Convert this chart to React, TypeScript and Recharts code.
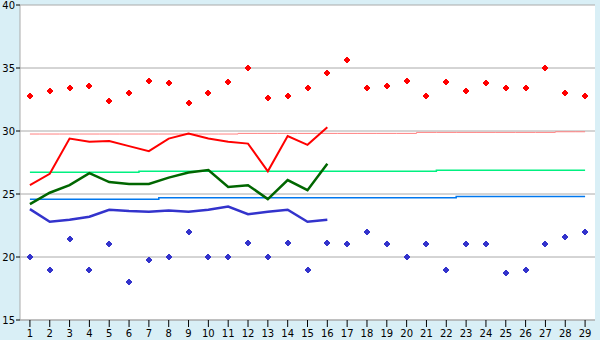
import { ComposedChart, Line, XAxis, YAxis, CartesianGrid } from "recharts";

const days = [
  "1", "2", "3", "4", "5", "6", "7", "8", "9", "10", "11", "12", "13", "14", "15",
  "16", "17", "18", "19", "20", "21", "22", "23", "24", "25", "26", "27", "28", "29",
];

// scattered daily highs / lows
const highs = [
  32.8, 33.2, 33.4, 33.6, 32.4, 33.0, 34.0, 33.8, 32.2, 33.0, 33.9, 35.0, 32.6, 32.8, 33.4,
  34.6, 35.6, 33.4, 33.6, 34.0, 32.8, 33.9, 33.2, 33.8, 33.4, 33.4, 35.0, 33.0, 32.8,
];
const lows = [
  20.0, 19.0, 21.4, 19.0, 21.0, 18.0, 19.75, 20.0, 22.0, 20.0, 20.0, 21.1, 20.0, 21.1, 19.0,
  21.1, 21.0, 22.0, 21.0, 20.0, 21.0, 19.0, 21.0, 21.0, 18.7, 19.0, 21.0, 21.6, 22.0,
];

// current month lines (first 16 days)
const redLine = [25.7, 26.6, 29.4, 29.15, 29.2, 28.8, 28.4, 29.4, 29.8, 29.4, 29.15, 29.0, 26.8, 29.6, 28.9, 30.3];
const greenLine = [24.2, 25.1, 25.7, 26.65, 25.95, 25.8, 25.8, 26.3, 26.7, 26.9, 25.55, 25.7, 24.6, 26.1, 25.3, 27.4];
const blueLine = [23.8, 22.8, 22.95, 23.2, 23.75, 23.65, 23.6, 23.7, 23.6, 23.75, 24.0, 23.4, 23.6, 23.75, 22.8, 22.95];

// long-term averages
const avgHigh = [
  29.76, 29.76, 29.76, 29.76, 29.76, 29.76, 29.76, 29.76, 29.76, 29.76, 29.76, 29.81, 29.81, 29.81, 29.81,
  29.81, 29.81, 29.81, 29.81, 29.81, 29.89, 29.89, 29.89, 29.89, 29.89, 29.89, 29.89, 29.94, 29.94,
];
const avgMean = [
  26.72, 26.72, 26.72, 26.72, 26.72, 26.72, 26.8, 26.8, 26.8, 26.8, 26.8, 26.8, 26.8, 26.8, 26.8,
  26.8, 26.8, 26.8, 26.8, 26.8, 26.8, 26.88, 26.88, 26.88, 26.88, 26.88, 26.88, 26.88, 26.88,
];
const avgLow = [
  24.58, 24.58, 24.58, 24.58, 24.58, 24.58, 24.58, 24.7, 24.7, 24.7, 24.7, 24.7, 24.7, 24.7, 24.7,
  24.7, 24.7, 24.7, 24.7, 24.7, 24.7, 24.7, 24.8, 24.8, 24.8, 24.8, 24.8, 24.8, 24.8,
];

const yTicks = [15, 20, 25, 30, 35, 40];

const data = days.map((day, i) => ({
  day,
  high: highs[i],
  low: lows[i],
  red: i < redLine.length ? redLine[i] : null,
  green: i < greenLine.length ? greenLine[i] : null,
  blue: i < blueLine.length ? blueLine[i] : null,
  avgHigh: avgHigh[i],
  avgMean: avgMean[i],
  avgLow: avgLow[i],
}));

const tickStyle = { fontFamily: "DejaVu Sans", fontSize: 10, fill: "#000" };

// small chunky plus marker
const PlusDot = (props: any) => {
  const { cx, cy, color, index } = props;
  if (cx == null || cy == null) return null;
  const x = Math.round(cx);
  const y = Math.round(cy);
  return (
    <g key={index} shapeRendering="crispEdges">
      <rect x={x - 3} y={y - 1} width={6} height={2} fill={color} />
      <rect x={x - 1} y={y - 3} width={2} height={6} fill={color} />
      <rect x={x - 2} y={y - 2} width={4} height={4} fill={color} />
    </g>
  );
};

export default function App() {
  return (
    <div style={{ position: "absolute", left: 0, top: 0, width: 600, height: 340, background: "#d9eff6" }}>
      <ComposedChart width={600} height={340} data={data} margin={{ top: 5, right: 5, left: 0, bottom: 0 }}>
        <CartesianGrid vertical={false} stroke="#aaaaaa" fill="#ffffff" />
        <XAxis
          dataKey="day"
          scale="band"
          height={20}
          stroke="#aaaaaa"
          tickSize={7}
          tickMargin={3}
          tick={tickStyle}
          tickLine={{ stroke: "#000" }}
          interval={0}
        />
        <YAxis
          width={20}
          domain={[15, 40]}
          ticks={yTicks}
          stroke="#aaaaaa"
          tickSize={4}
          tickMargin={1}
          tick={tickStyle}
          tickLine={{ stroke: "#000" }}
        />
        <YAxis yAxisId="r" orientation="right" width={0} tick={false} tickLine={false} stroke="#aaaaaa" />
        <Line dataKey="avgHigh" type="step" stroke="#ff8080" strokeWidth={1} dot={false} isAnimationActive={false} />
        <Line dataKey="avgMean" type="step" stroke="#00f080" strokeWidth={1.5} dot={false} isAnimationActive={false} />
        <Line dataKey="avgLow" type="step" stroke="#0077ee" strokeWidth={1.5} dot={false} isAnimationActive={false} />
        <Line dataKey="red" type="linear" stroke="#ff0000" strokeWidth={2} dot={false} isAnimationActive={false} />
        <Line dataKey="green" type="linear" stroke="#006600" strokeWidth={2.5} dot={false} isAnimationActive={false} />
        <Line dataKey="blue" type="linear" stroke="#3333cc" strokeWidth={2.5} dot={false} isAnimationActive={false} />
        <Line
          dataKey="high"
          stroke="none"
          dot={(p: any) => <PlusDot key={p.index} {...p} color="#ff0000" />}
          activeDot={false}
          isAnimationActive={false}
        />
        <Line
          dataKey="low"
          stroke="none"
          dot={(p: any) => <PlusDot key={p.index} {...p} color="#3333cc" />}
          activeDot={false}
          isAnimationActive={false}
        />
      </ComposedChart>
    </div>
  );
}
